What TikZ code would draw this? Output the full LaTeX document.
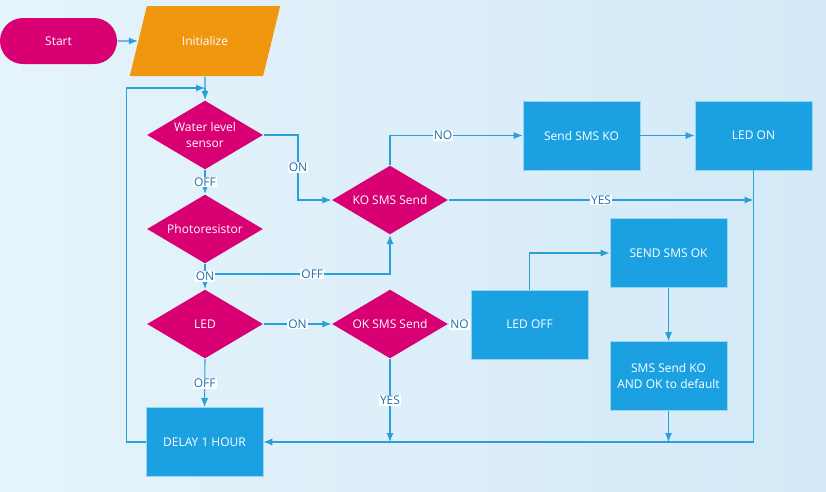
\documentclass[tikz,border=0pt]{standalone}
\usepackage{fontspec}
\setmainfont{Open Sans}
\usepackage{tikz}
\usetikzlibrary{shapes.geometric}
\usetikzlibrary{arrows.meta}
\usetikzlibrary{positioning}
\definecolor{flowmagenta}{HTML}{D80073}
\definecolor{flowblue}{HTML}{1BA1E2}
\definecolor{floworange}{HTML}{F0960F}
\definecolor{flowline}{HTML}{2A9FD8}
\definecolor{flowlabel}{HTML}{1E6FAF}
\definecolor{bgleft}{HTML}{E6F4FB}
\definecolor{bgright}{HTML}{D3E9F7}
\tikzset{
% Define standard arrow tip
>={Latex[length=9pt,width=7pt]},
decision/.style={diamond, fill=flowmagenta, text=white,
  align=center, aspect=1.68, inner sep=1pt,
  minimum width=116, minimum height=69},
process/.style={rectangle, fill=flowblue, draw=white!55!flowblue,
  line width=0.6pt, text=white, align=center, inner sep=2pt,
  minimum width=117, minimum height=69},
flowlbl/.style={fill=white, text=flowlabel, inner sep=1pt}
}

\begin{document}
\begin{tikzpicture}[x=1pt, y=-1pt, font=\fontsize{12}{16}\selectfont,
  draw=flowline, line width=1.1pt]
  \fill[left color=bgleft, right color=bgright] (0,0) rectangle (826,491);
  \useasboundingbox (0,0) rectangle (826,491);

  \node[rectangle, rounded corners=23,
    fill=flowmagenta, text=white,
    minimum width=117, minimum height=46] (start) at (58.5,41) {Start};

  \node[trapezium, trapezium stretches=true,
    trapezium left angle=64, trapezium right angle=116,
    fill=floworange, text=white,
    minimum width=151, minimum height=70] (init) at (205,41) {Initialize};

  \node[decision] (water) at (205,135) {Water level\\sensor};
  \node[decision] (photo) at (205,229) {Photoresistor};
  \node[decision] (led) at (205,324) {LED};
  \node[decision] (kosms) at (390,200) {KO SMS Send};
  \node[decision] (oksms) at (390,324) {OK SMS Send};

  \node[process] (sendko) at (581.5,135.5) {Send SMS KO};
  \node[process] (ledon) at (753.5,135.5) {LED ON};
  \node[process] (ledoff) at (529.5,324.5) {LED OFF};
  \node[process] (sendok) at (668.5,253) {SEND SMS OK};
  \node[process] (smsreset) at (668.5,376) {SMS Send KO\\AND OK to default};
  \node[process] (delay) at (204.5,442) {DELAY 1 HOUR};

  \coordinate (loop) at (205,88);
  \coordinate (onbend) at (298,135);
  \coordinate (offsplit) at (205,274);

  \draw[->] (start.east) -- (init.west);
  \draw (init.south) -- (loop);
  \draw[->] (loop) -- (water.north);
  \draw[->] (delay.west) -- ++(-19,0) |- (loop);

  \draw[->] (water.east) -- (onbend) -- node[flowlbl]{ON} (onbend |- kosms.west) -- (kosms.west);
  \draw[->] (water.south) -- node[flowlbl]{OFF} (photo.north);
  \draw[->] (offsplit) -| node[flowlbl, pos=0.29]{OFF} (kosms.south);
  \draw[->] (photo.south) -- node[flowlbl]{ON} (led.north);

  \draw[->] (kosms.north) |- node[flowlbl, pos=0.7]{NO} (sendko.west);
  \draw[->] (sendko.east) -- (ledon.west);
  \draw[->] (kosms.east) -- node[flowlbl]{YES} (kosms.east -| ledon.south);
  \draw[->] (ledon.south) |- (delay.east);

  \draw[->] (led.east) -- node[flowlbl]{ON} (oksms.west);
  \draw[->] (led.south) -- node[flowlbl]{OFF} (delay.north);
  \draw[->] (oksms.east) -- node[flowlbl]{NO} (ledoff.west);
  \draw[->] (oksms.south) -- node[flowlbl, pos=0.5]{YES} (oksms.south |- delay.east);

  \draw[->] (ledoff.north) |- (sendok.west);
  \draw[->] (sendok.south) -- (smsreset.north);
  \draw[->] (smsreset.south) -- (smsreset.south |- delay.east);
\end{tikzpicture}
\end{document}
